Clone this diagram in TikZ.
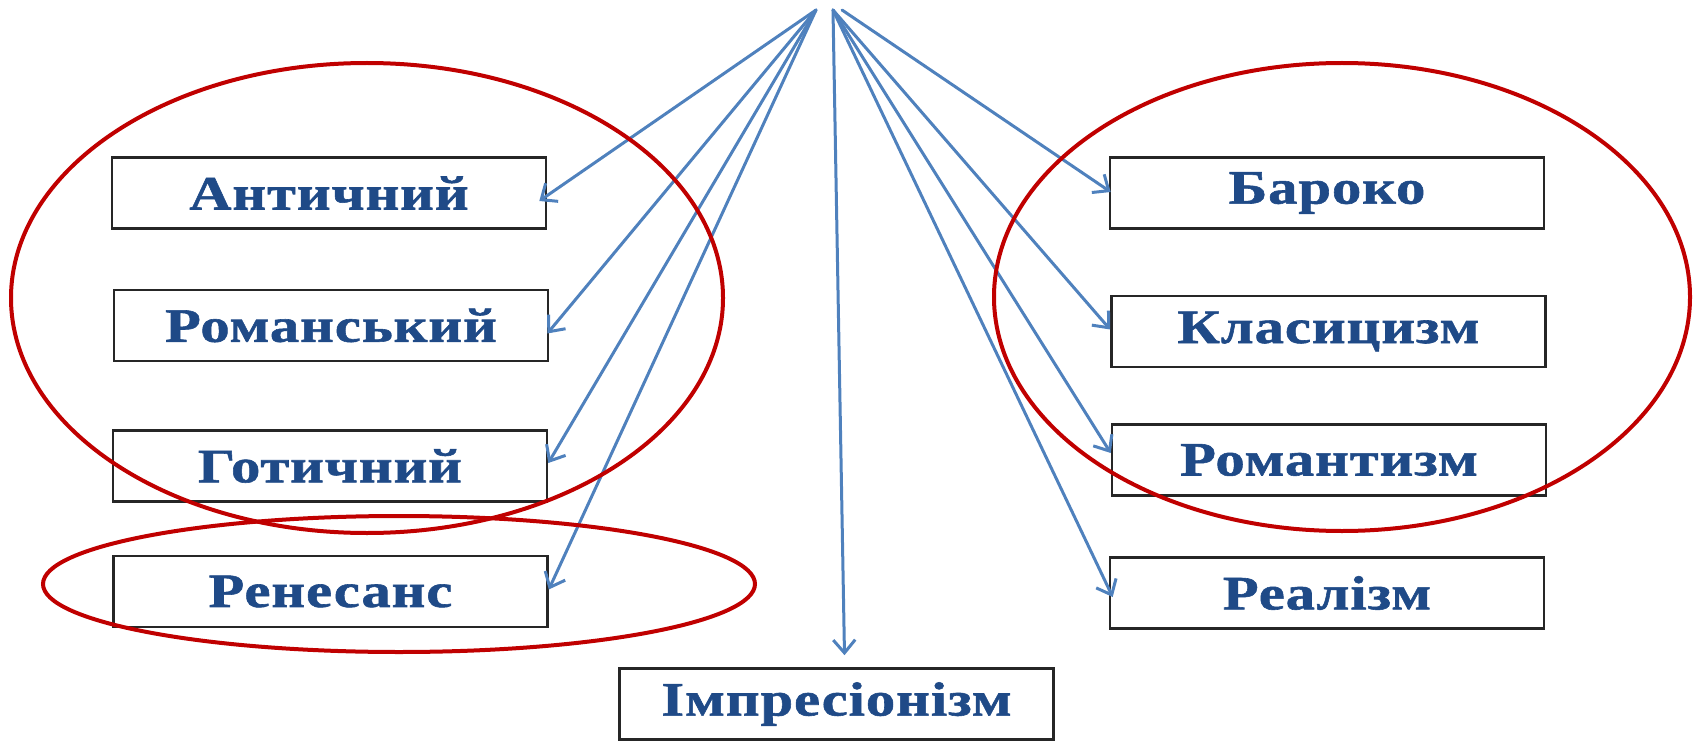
\documentclass[tikz,border=0pt]{standalone}
\usepackage{fontspec}
\setmainfont{Liberation Serif}
\newfontfamily\labfont{Liberation Serif Bold}[FakeStretch=1.22,LetterSpace=2,FakeBold=1.2]
\usetikzlibrary{arrows.meta,calc}
\definecolor{txt}{HTML}{1F4A87}
\definecolor{arr}{HTML}{4F81BD}
\definecolor{ell}{HTML}{C00000}
\begin{document}
\begin{tikzpicture}[x=1pt,y=-1pt,
  box/.style={draw=black!85, line width=2.6pt, minimum width=434pt, minimum height=71pt,
    inner sep=0pt, font=\labfont\fontsize{48}{52}\selectfont, text=txt},
  conn/.style={draw=arr, line width=3pt, line cap=round,
    -{Straight Barb[length=13pt,width=22pt,line width=3pt]}},
  ring/.style={draw=ell, line width=4pt}]
\useasboundingbox (0,0) rectangle (1698,741);
% boxes
\node[box] (ant) at (329,193) {Античний};
\node[box] (rom) at (331,325.5) {Романський};
\node[box] (got) at (330,466) {Готичний};
\node[box] (ren) at (330.5,591.5) {Ренесанс};
\node[box] (bar) at (1327,193) {Бароко};
\node[box] (kla) at (1328.5,331.5) {Класицизм};
\node[box] (rmt) at (1329,460) {Романтизм};
\node[box] (rea) at (1327,593) {Реалізм};
\node[box] (imp) at (836.5,704) {Імпресіонізм};
% origins
\coordinate (L) at (816,10);
\coordinate (R) at (833,10);
\coordinate (R2) at (842,10);
% tips
\coordinate (tant) at ($(ant.east)+(-8,8)$);
\coordinate (trom) at ($(rom.east)+(-2,8)$);
\coordinate (tgot) at ($(got.east)+(0,-3)$);
\coordinate (tren) at ($(ren.east)+(0,-2)$);
\coordinate (timp) at ($(imp.north)+(8,-12)$);
\coordinate (tbar) at ($(bar.west)+(2,-1)$);
\coordinate (tkla) at ($(kla.west)+(0,-2)$);
\coordinate (trmt) at ($(rmt.west)+(0,-7)$);
\coordinate (trea) at ($(rea.west)+(4,4)$);
\draw[conn] (L) -- (tant);
\draw[conn] (L) -- (trom);
\draw[conn] (L) -- (tgot);
\draw[conn] (L) -- (tren);
\draw[conn] (R) -- (timp);
\draw[conn] (R2) -- (tbar);
\draw[conn] (R) -- (tkla);
\draw[conn] (R) -- (trmt);
\draw[conn] (R) -- (trea);
% ellipses
\draw[ring] (367,298) ellipse [x radius=356, y radius=235];
\draw[ring] (1342,297) ellipse [x radius=348, y radius=234];
\draw[ring] (399,584) ellipse [x radius=356, y radius=68];
\end{tikzpicture}
\end{document}
